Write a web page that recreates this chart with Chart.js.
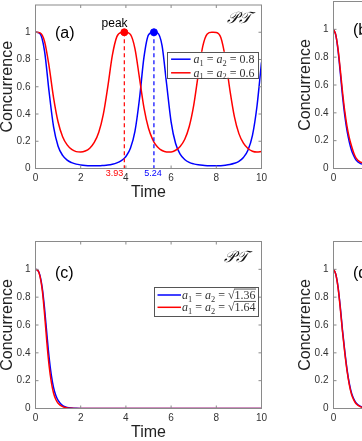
<!DOCTYPE html>
<html>
<head>
<meta charset="utf-8">
<script src="https://cdn.jsdelivr.net/npm/chart.js@4.4.1/dist/chart.umd.min.js"></script>
<style>
  html, body { margin: 0; padding: 0; background: #fff; overflow: hidden; width: 362px; height: 441px; }
  canvas { position: absolute; }
</style>
</head>
<body>
<canvas id="panelA" width="300" height="205" style="left:0px;top:0px;width:300px;height:205px"></canvas>
<canvas id="panelB" width="300" height="205" style="left:298px;top:0px;width:300px;height:205px"></canvas>
<canvas id="panelC" width="300" height="205" style="left:0px;top:240px;width:300px;height:205px"></canvas>
<canvas id="panelD" width="300" height="205" style="left:298px;top:240px;width:300px;height:205px"></canvas>
<script>
// axis ticks
const xTicks = [0, 2, 4, 6, 8, 10];
const yTicks = [0, 0.2, 0.4, 0.6, 0.8, 1];

// (a) unbroken PT phase
const timeA = [0, 0.2, 0.4, 0.6, 0.8, 1, 1.2, 1.4, 1.6, 1.8, 2, 2.2, 2.4, 2.6, 2.8, 3, 3.2, 3.4, 3.6, 3.8, 3.93,
  4, 4.2, 4.4, 4.6, 4.8, 5, 5.2, 5.24, 5.4, 5.6, 5.8, 6, 6.2, 6.4, 6.6, 6.8, 7, 7.2, 7.4, 7.6, 7.8, 7.86,
  8, 8.2, 8.4, 8.6, 8.8, 9, 9.2, 9.4, 9.6, 9.8, 10];
const blueA = [1, 0.99, 0.862, 0.565, 0.305, 0.164, 0.096, 0.061, 0.043, 0.032, 0.026, 0.022, 0.02, 0.02, 0.02, 0.022, 0.025, 0.031, 0.041, 0.058, 0.075,
  0.088, 0.148, 0.272, 0.51, 0.817, 0.981, 1, 1, 0.995, 0.901, 0.622, 0.343, 0.183, 0.105, 0.066, 0.045, 0.034, 0.027, 0.023, 0.021, 0.02, 0.02,
  0.02, 0.021, 0.024, 0.029, 0.038, 0.053, 0.081, 0.134, 0.243, 0.457, 0.78];
const redA = [1, 0.995, 0.933, 0.751, 0.519, 0.341, 0.233, 0.173, 0.14, 0.124, 0.121, 0.128, 0.149, 0.191, 0.266, 0.397, 0.601, 0.83, 0.968, 0.999, 1,
  1, 0.984, 0.88, 0.665, 0.445, 0.295, 0.207, 0.194, 0.158, 0.132, 0.122, 0.122, 0.134, 0.162, 0.213, 0.306, 0.463, 0.687, 0.896, 0.988, 1, 1,
  0.999, 0.961, 0.81, 0.578, 0.381, 0.256, 0.186, 0.147, 0.127, 0.121, 0.125];
const peakTimes = [3.93, 5.24];
const peakValues = [1, 1];
const peakLabels = ["3.93", "5.24"];
const legendA = ["0.8", "0.6"];

// (c) broken PT phase
const timeC = [0, 0.1, 0.2, 0.3, 0.4, 0.5, 0.6, 0.7, 0.8, 0.9, 1, 1.2, 1.4, 1.6, 1.8, 2, 2.5, 3, 4, 5, 6, 7, 8, 9, 10];
const blueC = [1, 0.994, 0.955, 0.865, 0.72, 0.54, 0.37, 0.24, 0.15, 0.093, 0.058, 0.021, 0.008, 0.003, 0.001, 0.0004, 0.0001, 0, 0, 0, 0, 0, 0, 0, 0];
const redC = [1, 0.993, 0.95, 0.85, 0.68, 0.48, 0.31, 0.19, 0.11, 0.065, 0.038, 0.013, 0.0045, 0.0015, 0.0005, 0.0002, 0, 0, 0, 0, 0, 0, 0, 0, 0];
const legendC = ["1.36", "1.64"];

// (b) and (d), only their left edge shows
const timeB = [0, 0.1, 0.2, 0.3, 0.4, 0.5, 0.6, 0.7, 0.8, 0.9, 1, 1.2, 1.4, 1.6, 2, 3, 4, 5, 6, 7, 8, 9, 10];
const blueB = [1, 0.96, 0.85, 0.69, 0.52, 0.38, 0.27, 0.19, 0.13, 0.09, 0.06, 0.035, 0.027, 0.024, 0.021, 0.02, 0.02, 0.02, 0.02, 0.02, 0.02, 0.02, 0.02];
const redB = [1, 0.96, 0.86, 0.71, 0.55, 0.41, 0.3, 0.22, 0.16, 0.11, 0.075, 0.045, 0.033, 0.028, 0.022, 0.02, 0.02, 0.02, 0.02, 0.02, 0.02, 0.02, 0.02];
const timeD = [0, 0.1, 0.2, 0.3, 0.4, 0.5, 0.6, 0.7, 0.8, 0.9, 1, 1.2, 1.4, 1.6, 2, 3, 4, 5, 6, 7, 8, 9, 10];
const blueD = [1, 0.966, 0.875, 0.73, 0.56, 0.41, 0.28, 0.18, 0.11, 0.068, 0.04, 0.015, 0.005, 0.0015, 0.0002, 0, 0, 0, 0, 0, 0, 0, 0];
const redD = [1, 0.965, 0.87, 0.72, 0.55, 0.4, 0.27, 0.17, 0.1, 0.06, 0.035, 0.012, 0.004, 0.001, 0, 0, 0, 0, 0, 0, 0, 0, 0];

const BLUE = "#0000ff";
const RED = "#ff0000";
const fontSans = '"Liberation Sans", Arial, sans-serif';
const fontSerif = '"Liberation Serif", "Times New Roman", serif';
const axisColor = "#8a8a8a";

function pts(ts, vs) {
  return ts.map(function (t, i) { return { x: t, y: vs[i] }; });
}

function curve(ts, vs, color) {
  return {
    data: pts(ts, vs),
    borderColor: color,
    borderWidth: 1.5,
    pointRadius: 0,
    fill: false,
    cubicInterpolationMode: "monotone",
  };
}

// math text: a_1 = a_2 = value
function drawMath(ctx, x, y, parts, size, dry) {
  let cx = x;
  parts.forEach(function (p) {
    const txt = p[0], kind = p[1];
    if (kind === "i") {
      ctx.font = "italic " + size + "px " + fontSerif;
      if (!dry) ctx.fillText(txt, cx, y);
      cx += ctx.measureText(txt).width;
    } else if (kind === "sub") {
      ctx.font = size * 0.7 + "px " + fontSerif;
      if (!dry) ctx.fillText(txt, cx, y + size * 0.22);
      cx += ctx.measureText(txt).width;
    } else if (kind === "sqrt") {
      ctx.font = size + "px " + fontSerif;
      const rw = ctx.measureText("\u221A").width;
      const tw = ctx.measureText(txt).width;
      if (!dry) {
        ctx.fillText("\u221A", cx, y);
        ctx.fillText(txt, cx + rw, y);
        ctx.fillRect(cx + rw - 0.5, y - size * 0.86, tw + 1, 0.8);
      }
      cx += rw + tw;
    } else {
      ctx.font = size + "px " + fontSerif;
      if (!dry) ctx.fillText(txt, cx, y);
      cx += ctx.measureText(txt).width;
    }
  });
  return cx - x;
}

function legendParts(value, sqrt) {
  return [["a", "i"], ["1", "sub"], [" = ", "r"], ["a", "i"], ["2", "sub"], [" = ", "r"], [value, sqrt ? "sqrt" : "r"]];
}

const panelDeco = {
  id: "panelDeco",
  afterDraw(chart, args, opts) {
    const ctx = chart.ctx;
    const a = chart.chartArea;
    const x = chart.scales.x, y = chart.scales.y;
    ctx.save();
    // box and inward ticks
    ctx.strokeStyle = axisColor;
    ctx.lineWidth = 1;
    ctx.strokeRect(a.left, a.top, a.right - a.left, a.bottom - a.top);
    ctx.beginPath();
    xTicks.forEach(function (v) {
      const px = x.getPixelForValue(v);
      ctx.moveTo(px, a.bottom); ctx.lineTo(px, a.bottom - 3);
      ctx.moveTo(px, a.top); ctx.lineTo(px, a.top + 3);
    });
    yTicks.forEach(function (v) {
      const py = y.getPixelForValue(v);
      ctx.moveTo(a.left, py); ctx.lineTo(a.left + 3, py);
      ctx.moveTo(a.right, py); ctx.lineTo(a.right - 3, py);
    });
    ctx.stroke();

    // panel letter
    ctx.fillStyle = "#000";
    ctx.textBaseline = "middle";
    ctx.textAlign = "left";
    ctx.font = "16px " + fontSans;
    ctx.fillText(opts.letter, x.getPixelForValue(opts.letterAt[0]), y.getPixelForValue(opts.letterAt[1]));

    if (opts.pt) {
      ctx.textAlign = "center";
      ctx.font = "italic 16px " + fontSerif;
      ctx.fillStyle = "#111";
      ctx.fillText("\uD835\uDCAB\uD835\uDCAF", x.getPixelForValue(opts.pt[0]), y.getPixelForValue(opts.pt[1]));
    }

    if (opts.peak) {
      ctx.textAlign = "center";
      ctx.fillStyle = "#000";
      ctx.font = "12px " + fontSans;
      ctx.fillText("peak", x.getPixelForValue(3.5), y.getPixelForValue(1.065));
      ctx.font = "9px " + fontSans;
      ctx.fillStyle = RED;
      ctx.textAlign = "right";
      ctx.fillText(peakLabels[0], x.getPixelForValue(peakTimes[0]) - 1, a.bottom + 5.5);
      ctx.fillStyle = BLUE;
      ctx.textAlign = "center";
      ctx.fillText(peakLabels[1], x.getPixelForValue(peakTimes[1]) - 1, a.bottom + 5.5);
    }

    if (opts.legend) {
      const L = opts.legend;
      const size = L.size;
      ctx.textAlign = "left";
      ctx.textBaseline = "alphabetic";
      let tw = 0;
      L.values.forEach(function (v) {
        tw = Math.max(tw, drawMath(ctx, 0, 0, legendParts(v, L.sqrt), size, true));
      });
      const right = a.right - L.right;
      const left = right - (L.padL + L.lineLen + L.gap + tw + L.padR);
      const top = a.top + L.top;
      ctx.fillStyle = "#fff";
      ctx.fillRect(left, top, right - left, L.height);
      ctx.strokeStyle = "#555";
      ctx.lineWidth = 1;
      ctx.strokeRect(Math.round(left) + 0.5, Math.round(top) + 0.5, Math.round(right - left), Math.round(L.height));
      [BLUE, RED].forEach(function (c, i) {
        const cy = top + L.rows[i];
        ctx.strokeStyle = c;
        ctx.lineWidth = 1.5;
        ctx.beginPath();
        ctx.moveTo(left + L.padL, cy);
        ctx.lineTo(left + L.padL + L.lineLen, cy);
        ctx.stroke();
        ctx.fillStyle = "#333";
        drawMath(ctx, left + L.padL + L.lineLen + L.gap, cy + size * 0.33, legendParts(L.values[i], L.sqrt), size, false);
      });
    }
    ctx.restore();
  },
};

function makePanel(id, datasets, deco) {
  return new Chart(document.getElementById(id), {
    type: "line",
    data: { datasets: datasets },
    options: {
      responsive: false,
      animation: false,
      layout: { padding: { left: 0, top: 1.5, right: 38.5, bottom: 0 } },
      plugins: {
        legend: { display: false },
        tooltip: { enabled: false },
        panelDeco: deco,
      },
      scales: {
        x: {
          type: "linear",
          min: 0,
          max: 10,
          afterBuildTicks: function (s) { s.ticks = xTicks.map(function (v) { return { value: v }; }); },
          afterFit: function (s) { s.height = 36.5; s.paddingLeft = 0; s.paddingRight = 0; },
          grid: { display: false, drawTicks: false },
          border: { display: false },
          ticks: { font: { family: fontSans, size: 10 }, color: "#333", padding: 4, maxRotation: 0, autoSkip: false,
            callback: function (v) { return String(v); } },
          title: { display: true, text: "Time", color: "#222", font: { family: fontSans, size: 16, lineHeight: 1 }, padding: { top: 0, bottom: 4 } },
        },
        y: {
          min: 0,
          max: 1.2,
          afterBuildTicks: function (s) { s.ticks = yTicks.map(function (v) { return { value: v }; }); },
          afterFit: function (s) { s.width = 35.5; s.paddingTop = 0; s.paddingBottom = 0; },
          grid: { display: false, drawTicks: false },
          border: { display: false },
          ticks: { font: { family: fontSans, size: 10 }, color: "#333", padding: 5,
            callback: function (v) { return String(v); } },
          title: { display: true, text: "Concurrence", color: "#222", font: { family: fontSans, size: 16, lineHeight: 1 }, padding: { top: 0, bottom: 0 } },
        },
      },
    },
    plugins: [panelDeco],
  });
}

// (a)
makePanel("panelA", [
  {
    data: pts(peakTimes, peakValues),
    showLine: false,
    pointRadius: 3.5,
    pointBorderWidth: 1,
    pointBackgroundColor: [RED, BLUE],
    pointBorderColor: [RED, BLUE],
  },
  { data: [{ x: peakTimes[0], y: peakValues[0] }, { x: peakTimes[0], y: 0 }], borderColor: RED, borderWidth: 1.2, borderDash: [4, 3], pointRadius: 0 },
  { data: [{ x: peakTimes[1], y: peakValues[1] }, { x: peakTimes[1], y: 0 }], borderColor: BLUE, borderWidth: 1.2, borderDash: [4, 3], pointRadius: 0 },
  curve(timeA, redA, RED),
  curve(timeA, blueA, BLUE),
], {
  letter: "(a)", letterAt: [0.86, 0.99], pt: [9.0, 1.1], peak: true,
  legend: { values: legendA, sqrt: false, size: 12, right: 4, top: 46.8, height: 26, rows: [7.4, 21], padL: 4.5, lineLen: 19.5, gap: 3, padR: 3 },
});

// (b)
makePanel("panelB", [curve(timeB, redB, RED), curve(timeB, blueB, BLUE)], {
  letter: "(b)", letterAt: [0.86, 0.99],
});

// (c)
makePanel("panelC", [curve(timeC, redC, RED), curve(timeC, blueC, BLUE)], {
  letter: "(c)", letterAt: [0.86, 0.97], pt: [8.89, 1.08],
  legend: { values: legendC, sqrt: true, size: 12, right: 4, top: 45, height: 29, rows: [8.5, 20.8], padL: 4, lineLen: 23.5, gap: 1, padR: 2 },
});

// (d)
makePanel("panelD", [curve(timeD, redD, RED), curve(timeD, blueD, BLUE)], {
  letter: "(d)", letterAt: [0.86, 0.97],
});
</script>
</body>
</html>
